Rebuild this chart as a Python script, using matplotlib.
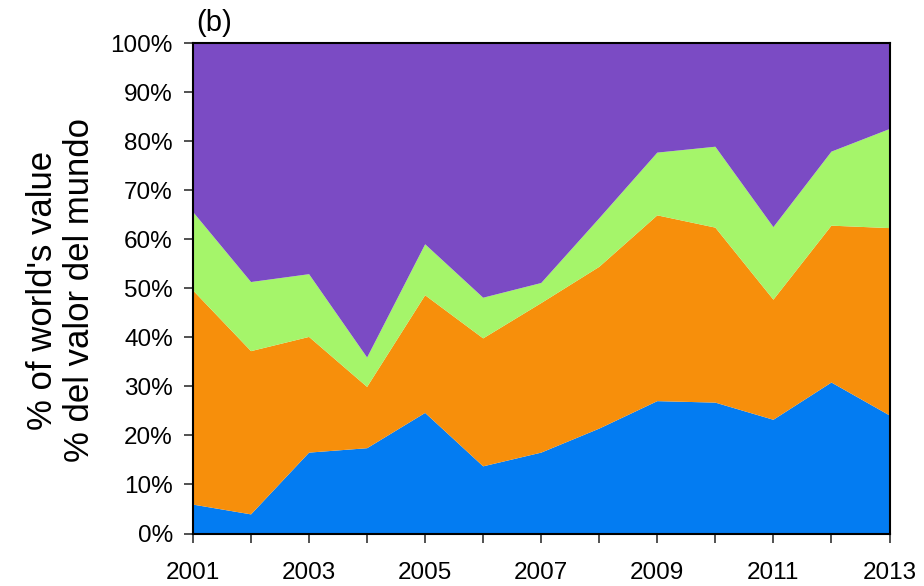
import numpy as np
import matplotlib
matplotlib.use("Agg")
import matplotlib.pyplot as plt
from matplotlib.ticker import PercentFormatter

plt.rcParams['font.family'] = ['Liberation Sans', 'DejaVu Sans']

# shares of world value, %
years = list(range(2001, 2014))
blue = [5.9, 3.9, 16.5, 17.4, 24.6, 13.7, 16.5, 21.4, 27.0, 26.7, 23.2, 30.8, 24.1]
orange = [43.7, 33.3, 23.6, 12.5, 24.0, 26.1, 30.5, 33.0, 37.9, 35.7, 24.5, 32.0, 38.2]
green = [16.0, 14.1, 12.8, 6.0, 10.4, 8.3, 4.1, 9.9, 12.8, 16.5, 14.8, 15.1, 20.2]
purple = [34.4, 48.7, 47.1, 64.1, 41.0, 51.9, 48.9, 35.7, 22.3, 21.1, 37.5, 22.1, 17.5]

colors = ['#037cf2', '#f78f0b', '#a5f56a', '#7b4bc4']

fig = plt.figure(figsize=(9.24, 5.86), dpi=100)
ax = fig.add_axes([193 / 924, 1 - 533.5 / 586, (889.5 - 193) / 924, (533.5 - 43.3) / 586])

ax.stackplot(years, blue, orange, green, purple, colors=colors, linewidth=0)

ax.set_xlim(2001, 2013)
ax.set_ylim(0, 100)
ax.set_yticks(np.arange(0, 101, 10))
ax.yaxis.set_major_formatter(PercentFormatter(decimals=0))
ax.set_xticks(years)
ax.set_xticklabels([str(y) if y % 2 == 1 else '' for y in years])

ax.tick_params(axis='both', labelsize=17.5, colors='#333333', labelcolor='black',
               length=6.5, width=1.2)
ax.tick_params(axis='x', pad=14)
ax.tick_params(axis='y', pad=8)
for s in ax.spines.values():
    s.set_linewidth(1.5)
    s.set_color('black')
    s.set_zorder(5)

ax.text(0.005, 1.012, '(b)', transform=ax.transAxes, fontsize=21, va='bottom', ha='left')

fig.text(61 / 924, 1 - 290 / 586, "% of world's value\n% del valor del mundo",
         rotation=90, ha='center', va='center', multialignment='center',
         fontsize=25, linespacing=1.15)

fig.savefig('out.png', dpi=100)
